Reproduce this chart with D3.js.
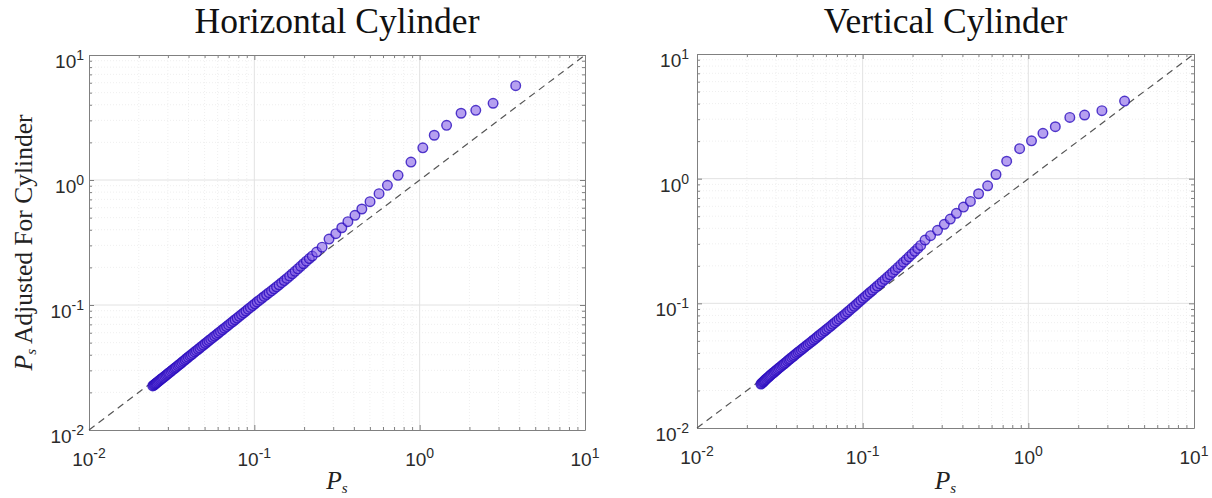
<!DOCTYPE html>
<html>
<head>
<meta charset="utf-8">
<script src="https://cdn.jsdelivr.net/npm/d3@7"></script>
<style>
  body { margin: 0; background: #fff; }
  svg { display: block; }
</style>
</head>
<body>
<svg id="chart" width="1212" height="498"></svg>
<script>
// shared P_s values (x)
const psValues = [
  0.0243, 0.0246, 0.0249, 0.0252, 0.0255, 0.0258, 0.0262, 0.0266, 0.0270, 0.0274,
  0.0278, 0.0282, 0.0287, 0.0292, 0.0297, 0.0302, 0.0307, 0.0313, 0.0319, 0.0325,
  0.0331, 0.0337, 0.0344, 0.0351, 0.0358, 0.0365, 0.0373, 0.0381, 0.0389, 0.0398,
  0.0407, 0.0416, 0.0426, 0.0436, 0.0446, 0.0457, 0.0468, 0.0480, 0.0492, 0.0505,
  0.0518, 0.0531, 0.0545, 0.0560, 0.0575, 0.0591, 0.0607, 0.0624, 0.0642, 0.0660,
  0.0679, 0.0699, 0.0720, 0.0742, 0.0764, 0.0787, 0.0811, 0.0836, 0.0862, 0.0889,
  0.0917, 0.0946, 0.0976, 0.1007, 0.1040, 0.1074, 0.1110, 0.1147, 0.1186, 0.1227,
  0.1270, 0.1315, 0.1362, 0.1411, 0.1463, 0.1517, 0.1574, 0.1634, 0.1697, 0.1763,
  0.1833, 0.1906, 0.1983, 0.2064, 0.2150, 0.2240,
  0.238, 0.257, 0.283, 0.311, 0.338, 0.368, 0.406, 0.447, 0.501, 0.568,
  0.638, 0.740, 0.886, 1.045, 1.225, 1.455, 1.78, 2.185, 2.78, 3.81
];

// P_s adjusted, horizontal cylinder
const horizontalValues = [
  0.0225, 0.0228, 0.0231, 0.0234, 0.0237, 0.0240, 0.0244, 0.0248, 0.0252, 0.0256,
  0.0260, 0.0264, 0.0269, 0.0274, 0.0279, 0.0284, 0.0289, 0.0295, 0.0301, 0.0307,
  0.0313, 0.0319, 0.0326, 0.0333, 0.0340, 0.0348, 0.0356, 0.0364, 0.0373, 0.0382,
  0.0391, 0.0400, 0.0410, 0.0421, 0.0431, 0.0442, 0.0453, 0.0466, 0.0478, 0.0492,
  0.0505, 0.0519, 0.0533, 0.0549, 0.0564, 0.0580, 0.0597, 0.0615, 0.0634, 0.0652,
  0.0672, 0.0693, 0.0715, 0.0738, 0.0762, 0.0786, 0.0812, 0.0839, 0.0866, 0.0895,
  0.0925, 0.0956, 0.0989, 0.1022, 0.1058, 0.1093, 0.1131, 0.1170, 0.1211, 0.1254,
  0.1299, 0.1347, 0.1397, 0.1450, 0.1507, 0.1567, 0.1632, 0.1703, 0.1778, 0.1860,
  0.1947, 0.2039, 0.2138, 0.2241, 0.2352, 0.2464,
  0.265, 0.290, 0.337, 0.372, 0.415, 0.464, 0.522, 0.586, 0.671, 0.778,
  0.906, 1.09, 1.39, 1.81, 2.28, 2.74, 3.42, 3.61, 4.11, 5.68
];

// P_s adjusted, vertical cylinder
const verticalValues = [
  0.0225, 0.0228, 0.0232, 0.0235, 0.0239, 0.0243, 0.0247, 0.0252, 0.0256, 0.0261,
  0.0265, 0.0270, 0.0275, 0.0280, 0.0286, 0.0291, 0.0297, 0.0303, 0.0309, 0.0316,
  0.0322, 0.0329, 0.0336, 0.0344, 0.0352, 0.0359, 0.0368, 0.0376, 0.0385, 0.0395,
  0.0405, 0.0414, 0.0424, 0.0435, 0.0445, 0.0457, 0.0468, 0.0481, 0.0494, 0.0508,
  0.0522, 0.0536, 0.0552, 0.0568, 0.0584, 0.0602, 0.0619, 0.0638, 0.0657, 0.0678,
  0.0699, 0.0722, 0.0746, 0.0771, 0.0796, 0.0822, 0.0852, 0.0882, 0.0914, 0.0947,
  0.0981, 0.1019, 0.1058, 0.1098, 0.1139, 0.1181, 0.1227, 0.1273, 0.1324, 0.1377,
  0.1433, 0.1493, 0.1555, 0.1623, 0.1694, 0.1770, 0.1853, 0.1941, 0.2036, 0.2137,
  0.2245, 0.2360, 0.2483, 0.2615, 0.2758, 0.2912,
  0.322, 0.349, 0.385, 0.430, 0.474, 0.527, 0.592, 0.657, 0.757, 0.877,
  1.08, 1.38, 1.74, 2.01, 2.31, 2.61, 3.10, 3.24, 3.51, 4.19
];

const panelTitles = ["Horizontal Cylinder", "Vertical Cylinder"];
const axisDomain = [0.01, 10];
const majorTicks = [0.01, 0.1, 1, 10];
const majorExponents = ["-2", "-1", "0", "1"];
const minorSteps = [2, 3, 4, 5, 6, 7, 8, 9];

const SERIF = "'Liberation Serif', 'DejaVu Serif', serif";
const SANS = "Arial, 'Liberation Sans', Helvetica, sans-serif";
const markerFill = "#8660e6";
const markerEdge = "#2a0cbe";
const axisColour = "#808080";
const labelColour = "#2b2b2b";

const minorTicks = [];
majorTicks.slice(0, -1).forEach(base => minorSteps.forEach(m => minorTicks.push(base * m)));

const svg = d3.select("#chart");

const panels = [
  { left: 89, top: 55, width: 496, height: 375, values: horizontalValues, gap: 5, title: panelTitles[0], ylabel: true },
  { left: 697, top: 54, width: 497, height: 374, values: verticalValues, gap: 8, title: panelTitles[1], ylabel: false }
];

panels.forEach(p => drawPanel(p));

function drawPanel(p) {
  const g = svg.append("g").attr("transform", `translate(${p.left},${p.top})`);
  const x = d3.scaleLog().domain(axisDomain).range([0, p.width]);
  const y = d3.scaleLog().domain(axisDomain).range([p.height, 0]);

  // minor grid (dotted, faint)
  g.append("g").selectAll("line").data(minorTicks).enter().append("line")
      .attr("x1", d => x(d)).attr("x2", d => x(d))
      .attr("y1", 0).attr("y2", p.height)
      .attr("stroke", "#efefef").attr("stroke-dasharray", "1,2");
  g.append("g").selectAll("line").data(minorTicks).enter().append("line")
      .attr("y1", d => y(d)).attr("y2", d => y(d))
      .attr("x1", 0).attr("x2", p.width)
      .attr("stroke", "#efefef").attr("stroke-dasharray", "1,2");

  // major grid
  const inner = majorTicks.slice(1, -1);
  g.append("g").selectAll("line").data(inner).enter().append("line")
      .attr("x1", d => x(d)).attr("x2", d => x(d))
      .attr("y1", 0).attr("y2", p.height)
      .attr("stroke", "#e2e2e2");
  g.append("g").selectAll("line").data(inner).enter().append("line")
      .attr("y1", d => y(d)).attr("y2", d => y(d))
      .attr("x1", 0).attr("x2", p.width)
      .attr("stroke", "#e2e2e2");

  // axes, ticks inward on all sides
  const sides = [
    [d3.axisBottom(x), `translate(0,${p.height})`],
    [d3.axisTop(x), "translate(0,0)"],
    [d3.axisLeft(y), "translate(0,0)"],
    [d3.axisRight(y), `translate(${p.width},0)`]
  ];
  sides.forEach(([axis, tr]) => {
    const major = axis.tickValues(majorTicks).tickSize(-5).tickSizeOuter(0).tickFormat("");
    const ga = g.append("g").attr("transform", tr).call(major);
    ga.select(".domain").attr("stroke", axisColour);
    ga.selectAll(".tick line").attr("stroke", axisColour);
    const minor = axis.tickValues(minorTicks).tickSize(-3).tickSizeOuter(0).tickFormat("");
    const gm = g.append("g").attr("transform", tr).call(minor);
    gm.select(".domain").remove();
    gm.selectAll(".tick line").attr("stroke", axisColour);
  });

  // tick labels 10^n
  majorTicks.forEach((t, i) => {
    tickLabel(g, x(t), p.height + 36, majorExponents[i], "middle");
    tickLabel(g, -p.gap, y(t) + 13, majorExponents[i], "end");
  });

  // reference diagonal
  g.append("line")
      .attr("x1", x(axisDomain[0])).attr("y1", y(axisDomain[0]))
      .attr("x2", x(axisDomain[1])).attr("y2", y(axisDomain[1]))
      .attr("stroke", "#555").attr("stroke-width", 1.2)
      .attr("stroke-dasharray", "7,5");

  // scatter
  const pts = psValues.map((v, i) => [v, p.values[i]]);
  g.append("g").selectAll("circle").data(pts).enter().append("circle")
      .attr("cx", d => x(d[0]))
      .attr("cy", d => y(d[1]))
      .attr("r", 4.8)
      .attr("fill", markerFill)
      .attr("fill-opacity", 0.6)
      .attr("stroke", markerEdge)
      .attr("stroke-opacity", 0.8)
      .attr("stroke-width", 1.4);

  // title
  svg.append("text")
      .attr("x", p.left + p.width / 2).attr("y", 33)
      .attr("text-anchor", "middle")
      .attr("font-family", SERIF).attr("font-size", 35.5)
      .attr("fill", "#111")
      .text(p.title);

  // x label
  psLabel(svg.append("text")
      .attr("x", p.left + p.width / 2).attr("y", 489)
      .attr("text-anchor", "middle"), "");

  if (p.ylabel) {
    psLabel(svg.append("text")
        .attr("transform", `translate(32,${p.top + p.height / 2}) rotate(-90)`)
        .attr("text-anchor", "middle"), " Adjusted For Cylinder");
  }
}

function tickLabel(g, px, py, exp, anchor) {
  const t = g.append("text")
      .attr("x", px).attr("y", py)
      .attr("text-anchor", anchor)
      .attr("font-family", SANS).attr("font-size", 19)
      .attr("fill", labelColour);
  t.append("tspan").text("10");
  t.append("tspan").attr("dy", -8).attr("font-size", 14).text(exp);
}

function psLabel(t, rest) {
  t.attr("font-family", SERIF).attr("font-size", 25.5).attr("fill", "#222");
  t.append("tspan").attr("font-style", "italic").text("P");
  t.append("tspan").attr("font-style", "italic").attr("font-size", 15).attr("dy", 4).text("s");
  if (rest) t.append("tspan").attr("dy", -4).text(rest);
}
</script>
</body>
</html>
